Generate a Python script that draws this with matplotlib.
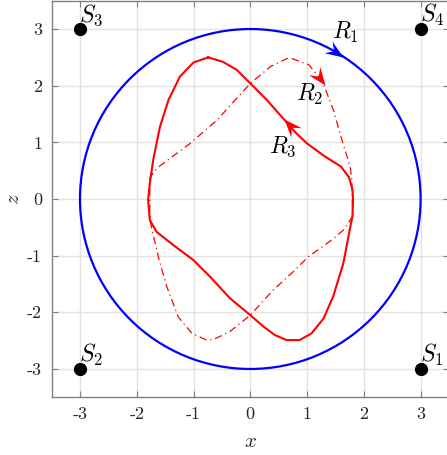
import numpy as np
import matplotlib
matplotlib.use("Agg")
import matplotlib.pyplot as plt
from matplotlib.path import Path
from matplotlib.markers import MarkerStyle
from matplotlib.transforms import Affine2D
from matplotlib.patches import Circle

plt.rcParams['mathtext.fontset'] = 'cm'
plt.rcParams['axes.unicode_minus'] = False

# ---- data ----
circle_center = (0.0, 0.0)
circle_radius = 3.0

solid_x = [-0.74, -0.48, -0.24, 0.0, 0.29, 0.58, 0.80, 1.00, 1.30, 1.60, 1.74, 1.80, 1.81,
           1.80, 1.75, 1.64, 1.46, 1.29, 1.08, 0.87, 0.64, 0.43, 0.23, 0.0, -0.36, -0.71,
           -1.00, -1.36, -1.65, -1.77, -1.80, -1.77, -1.71, -1.59, -1.44, -1.24, -1.00, -0.74]
solid_y = [2.50, 2.42, 2.28, 2.04, 1.75, 1.42, 1.17, 0.98, 0.76, 0.57, 0.38, 0.16, -0.02,
           -0.30, -0.55, -1.13, -1.72, -2.11, -2.37, -2.49, -2.49, -2.40, -2.25, -2.05, -1.75,
           -1.37, -1.08, -0.81, -0.58, -0.37, -0.02, 0.28, 0.69, 1.28, 1.75, 2.16, 2.41, 2.50]

dash_x = [0.73, 1.03, 1.27, 1.47, 1.62, 1.76, 1.79, 1.80, 1.64, 1.40, 1.02, 0.76, 0.40, 0.0,
          -0.36, -0.65, -0.77, -1.03, -1.27, -1.47, -1.62, -1.77, -1.77, -1.65, -1.41, -1.06,
          -0.59, 0.0, 0.36, 0.65, 0.73]
dash_y = [2.48, 2.37, 2.08, 1.55, 1.02, 0.57, 0.31, -0.31, -0.55, -0.75, -1.02, -1.28, -1.61,
          -2.05, -2.34, -2.48, -2.49, -2.37, -2.08, -1.55, -1.02, -0.37, 0.37, 0.54, 0.72, 0.98,
          1.39, 2.04, 2.34, 2.48, 2.48]

source_x = [3, -3, -3, 3]
source_y = [-3, -3, 3, 3]
source_labels = ['$S_1$', '$S_2$', '$S_3$', '$S_4$']

arrow_x = [1.64, 1.32, 0.59]
arrow_y = [2.50, 2.01, 1.42]
arrow_angle = [-34, -53, 132]
arrow_color = ['#0000ff', '#ff0000', '#ff0000']
arrow_labels = ['$R_1$', '$R_2$', '$R_3$']
arrow_label_x = [1.68, 1.04, 0.57]
arrow_label_y = [2.94, 1.84, 0.92]

ticks = [-3, -2, -1, 0, 1, 2, 3]
tick_labels = ['-3', '-2', '-1', '0', '1', '2', '3']

# ---- figure ----
W, H = 447, 455
fig = plt.figure(figsize=(W / 100, H / 100), dpi=100)
ax = fig.add_axes([51.6 / W, (H - 397.3) / H, 397.4 / W, 396.6 / H])
ax.set_xlim(-3.5, 3.5)
ax.set_ylim(-3.5, 3.5)

ax.grid(True, color='#e3e3e3', linewidth=1.0)
ax.set_axisbelow(True)

ax.add_patch(Circle(circle_center, circle_radius, fill=False, edgecolor='#0000ff',
                    linewidth=1.6, zorder=3))
ax.plot(solid_x, solid_y, color='#ff0000', linewidth=1.5, zorder=3)
ax.plot(dash_x, dash_y, color='#ff0000', linewidth=0.9, linestyle=(0, (6, 3, 1, 3)), zorder=3)

ax.plot(source_x, source_y, 'o', color='black', markersize=8.5, zorder=4)
for sx, sy, lab in zip(source_x, source_y, source_labels):
    ax.text(sx + 0.2, sy + 0.25, lab, fontsize=17, ha='center', va='center', zorder=5)

arrow_path = Path([(0, 0), (-1, 0.39), (-0.62, 0), (-1, -0.39), (0, 0)],
                  [Path.MOVETO, Path.LINETO, Path.LINETO, Path.LINETO, Path.CLOSEPOLY])
for axx, ayy, ang, col in zip(arrow_x, arrow_y, arrow_angle, arrow_color):
    m = MarkerStyle(arrow_path, transform=Affine2D().rotate_deg(ang))
    ax.plot([axx], [ayy], marker=m, markersize=26, color=col, markeredgewidth=0, zorder=5)
for lx, ly, lab in zip(arrow_label_x, arrow_label_y, arrow_labels):
    ax.text(lx, ly, lab, fontsize=17, ha='center', va='center', zorder=5)

ax.set_xticks(ticks)
ax.set_yticks(ticks)
ax.set_xticklabels(tick_labels, fontfamily=['cmr10', 'DejaVu Serif'], fontsize=13)
ax.set_yticklabels(tick_labels, fontfamily=['cmr10', 'DejaVu Serif'], fontsize=13)
ax.tick_params(direction='in', length=4, width=0.8, color='#808080', top=True, right=True,
               labelcolor='#262626', pad=7)
for s in ax.spines.values():
    s.set_color('#808080')
    s.set_linewidth(1.0)

ax.set_xlabel('$x$', fontsize=15, labelpad=6, color='#262626')
ax.set_ylabel('$z$', fontsize=15, labelpad=3, color='#262626')

fig.savefig('out.png', dpi=100)
